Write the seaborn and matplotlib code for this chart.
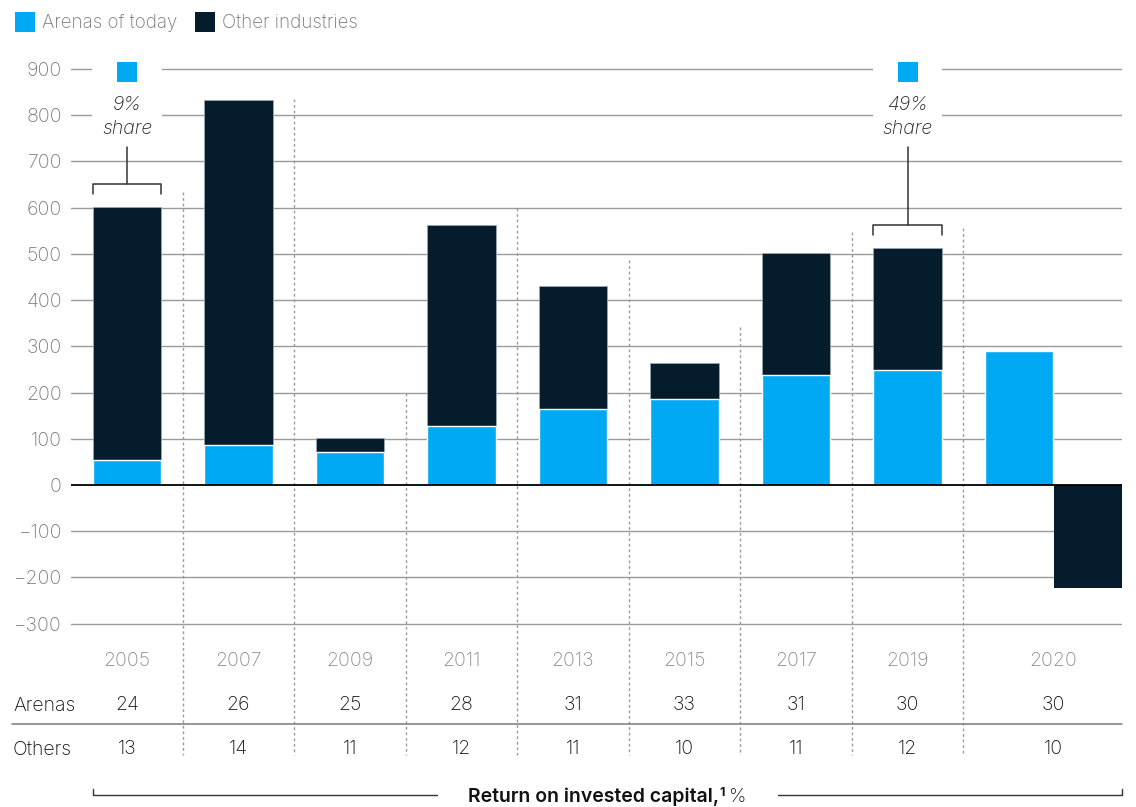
import matplotlib
matplotlib.use("Agg")
import matplotlib.pyplot as plt
from matplotlib.patches import Rectangle
import seaborn as sns
import numpy as np

# ---------------- data ----------------
years = ["2005", "2007", "2009", "2011", "2013", "2015", "2017", "2019", "2020"]
arenas = [54, 86, 71, 128, 164, 186, 238, 249, 290]          # Arenas of today
others = [547, 747, 31, 434, 266, 78, 264, 264, -223]        # Other industries
roic_arenas = ["24", "26", "25", "28", "31", "33", "31", "30", "30"]
roic_others = ["13", "14", "11", "12", "11", "10", "11", "12", "10"]
share_labels = {0: "9%", 7: "49%"}
yticks = [-300, -200, -100, 0, 100, 200, 300, 400, 500, 600, 700, 800, 900]

BLUE = "#00A9F4"
DARK = "#051C2C"
GRAY_TXT = "#7a7a7a"
GRID = "#9a9a9a"

sns.set_theme(style="white")
plt.rcParams["font.family"] = ["Inter", "DejaVu Sans"]
plt.rcParams["axes.unicode_minus"] = True
FS = 13.5
LW_T = "light"

W, H = 1136, 807
fig = plt.figure(figsize=(W / 100, H / 100), dpi=100)

# pixel geometry of the plotting frame
x0_px, step_px = 127.0, 111.5
zero_px, unit_px = 485.0, 416.0 / 900.0
left_px, right_px = 71.0, 1122.0


def xd(px):
    return (px - x0_px) / step_px


def yd(py):
    return (zero_px - py) / unit_px


ax = fig.add_axes([left_px / W, 0, (right_px - left_px) / W, 1])

bw = 0.61
n_stack = 8
pos = np.arange(len(years), dtype=float)
totals = [a + o for a, o in zip(arenas[:n_stack], others[:n_stack])]
dark_2020_pos = 8.62

# stacked bars: dark full total first, blue over it
sns.barplot(x=pos[:n_stack], y=totals, native_scale=True, width=bw, color=DARK,
            saturation=1, errorbar=None, edgecolor="#9aa7b2", linewidth=0.6,
            ax=ax, zorder=2)
sns.barplot(x=pos, y=arenas, native_scale=True, width=bw, color=BLUE,
            saturation=1, errorbar=None, edgecolor="white", linewidth=1.0,
            ax=ax, zorder=2.5)
sns.barplot(x=[dark_2020_pos], y=[others[-1]], native_scale=True, width=bw + 0.01,
            color=DARK, saturation=1, errorbar=None, linewidth=0, ax=ax, zorder=2)

ax.set_xlim(xd(left_px), xd(right_px))
ax.set_ylim(yd(H), yd(0))
ax.set_xlabel("")
ax.set_ylabel("")
ax.set_xticks([])
for s in ax.spines.values():
    s.set_visible(False)

# gridlines
ax.set_yticks(yticks)
ax.set_yticklabels([str(t) if t >= 0 else "\u2212" + str(-t) for t in yticks],
                   fontweight=LW_T)
ax.tick_params(axis="y", length=0, pad=6.5, labelsize=FS + 0.5, labelcolor=GRAY_TXT)
for t in yticks:
    if t == 0:
        continue
    ax.axhline(t, color=GRID, lw=1.0, zorder=1)
ax.axhline(0, color="black", lw=1.3, zorder=3)

# dotted separators between columns
sep_tops = [634, 835, 199, 599, 487, 342, 547, 556]
for k, top in enumerate(sep_tops):
    ax.plot([k + 0.5, k + 0.5], [top, yd(755)], ls=(0, (2, 2)), color="#9a9a9a",
            lw=1.0, zorder=1.5, clip_on=False)

# share annotations
for i, lab in share_labels.items():
    tot = arenas[i] + others[i]
    ax.add_patch(Rectangle((i - bw / 2 - 0.005, 735), bw + 0.01, 210,
                           facecolor="white", edgecolor="none", zorder=1.8))
    sq_w = 20 / step_px
    sq_h = 20 / 416.0 * 900
    ax.add_patch(Rectangle((i - sq_w / 2, yd(82)), sq_w, sq_h,
                           facecolor=BLUE, edgecolor="none", zorder=4))
    ax.text(i, yd(109.5), lab, ha="center", va="baseline", fontsize=FS + 0.5,
            style="italic", fontweight=LW_T, color="#222222", zorder=4)
    ax.text(i, yd(134.5), "share", ha="center", va="baseline", fontsize=FS + 0.5,
            style="italic", fontweight=LW_T, color="#222222", zorder=4)
    yb = tot + 50
    ax.plot([i, i], [yd(147), yb], color="#333333", lw=1.1, zorder=4)
    ax.plot([i - bw / 2, i - bw / 2, i + bw / 2, i + bw / 2],
            [tot + 28, yb, yb, tot + 28], color="#333333", lw=1.1, zorder=4)

# table below
tab_x = list(pos[:n_stack]) + [(pos[8] + dark_2020_pos) / 2]
for x, yr, ra, ro in zip(tab_x, years, roic_arenas, roic_others):
    ax.text(x, yd(665.5), yr, ha="center", va="baseline", fontsize=FS + 0.5,
            fontweight=LW_T, color="#8c8c8c", clip_on=False)
    ax.text(x, yd(710), ra, ha="center", va="baseline", fontsize=FS + 0.5,
            fontweight=LW_T, color="#111111", clip_on=False)
    ax.text(x, yd(754.5), ro, ha="center", va="baseline", fontsize=FS + 0.5,
            fontweight=LW_T, color="#111111", clip_on=False)

fig.text(13 / W, 1 - 711 / H, "Arenas", ha="left", va="baseline", fontsize=FS + 0.5,
         fontweight=LW_T, color="#111111")
fig.text(13 / W, 1 - 755 / H, "Others", ha="left", va="baseline", fontsize=FS + 0.5,
         fontweight=LW_T, color="#111111")
ax.plot([xd(12), xd(right_px)], [yd(724), yd(724)], color="#7a7a7a", lw=1.1,
        clip_on=False)

# bottom bracket with title
yb = yd(795)
ax.plot([xd(93), xd(93), xd(437)], [yd(789), yb, yb], color="#333333", lw=1.0,
        clip_on=False)
ax.plot([xd(778), xd(right_px), xd(right_px)], [yb, yb, yd(789)], color="#333333",
        lw=1.0, clip_on=False)

fig.canvas.draw()
renderer = fig.canvas.get_renderer()
base_y = 1 - 802 / H
t1 = fig.text(0, base_y, "Return on invested capital,", ha="left", va="baseline",
              fontsize=FS + 0.5, fontweight="semibold", color="#111111")
t2 = fig.text(0, base_y + 6 / H, "1", ha="left", va="baseline", fontsize=9,
              fontweight="bold", color="#111111")
t3 = fig.text(0, base_y, "%", ha="left", va="baseline", fontsize=FS + 0.5,
              fontweight=LW_T, color="#111111")
w1 = t1.get_window_extent(renderer).width
w2 = t2.get_window_extent(renderer).width
w3 = t3.get_window_extent(renderer).width
gap = 4
total_w = w1 + 1 + w2 + gap + w3
start = 607 - total_w / 2
t1.set_x(start / W)
t2.set_x((start + w1 + 1) / W)
t3.set_x((start + w1 + 1 + w2 + gap) / W)

# legend (top-left)
for (sx, col, txt) in [(15, BLUE, "Arenas of today"), (195, DARK, "Other industries")]:
    fig.add_artist(Rectangle((sx / W, 1 - 32 / H), 20 / W, 20 / H,
                             transform=fig.transFigure, facecolor=col,
                             edgecolor="none"))
    fig.text((sx + 27) / W, 1 - 27.5 / H, txt, ha="left", va="baseline",
             fontsize=FS, fontweight=LW_T, color=GRAY_TXT)

fig.savefig("out.png", dpi=100)
